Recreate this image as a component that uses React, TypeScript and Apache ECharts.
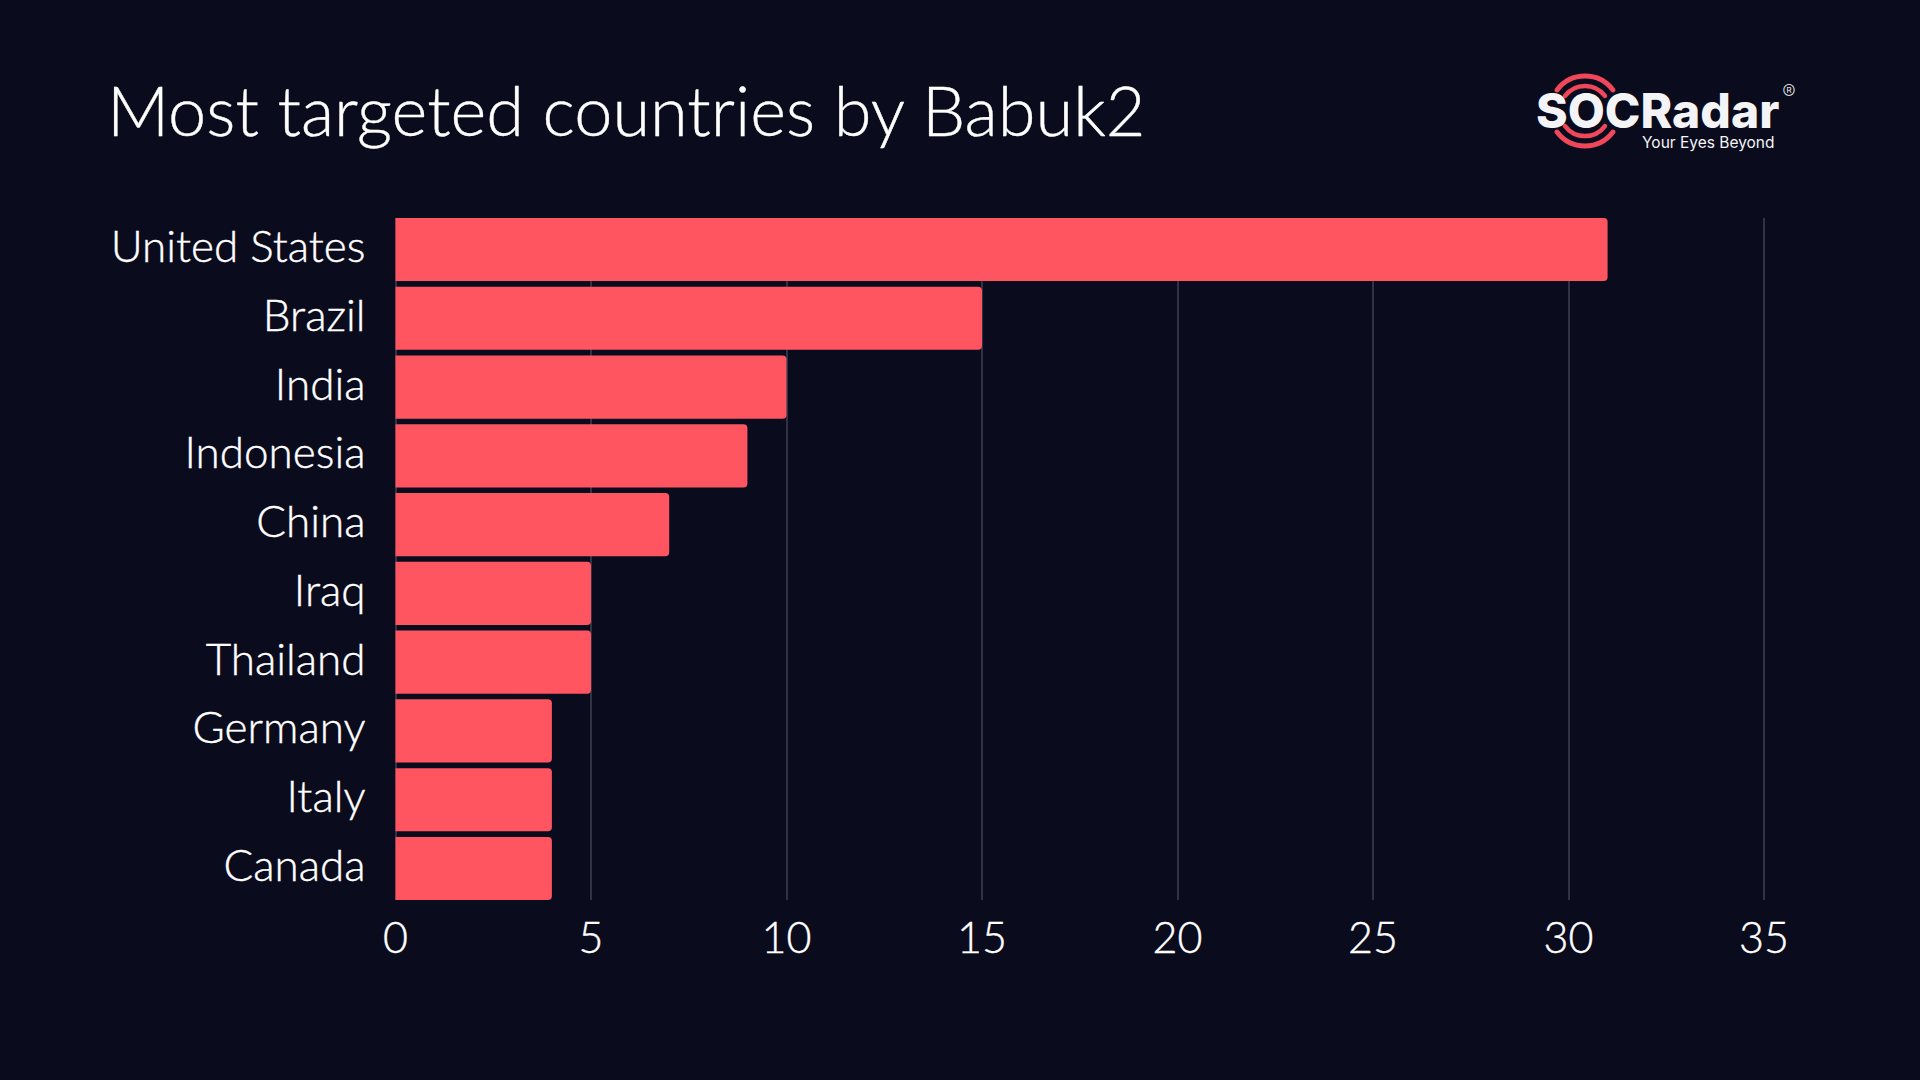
import { useEffect, useRef } from 'react';
import * as echarts from 'echarts';

const countries = ['United States', 'Brazil', 'India', 'Indonesia', 'China', 'Iraq', 'Thailand', 'Germany', 'Italy', 'Canada'];
const victims = [31, 15, 10, 9, 7, 5, 5, 4, 4, 4];

const BG = '#0a0c1d';
const RED = '#ff5561';
const FONT = 'Lato';

const arcAngles = [
  [-143, -37],
  [37, 143]
];
const arcRadii = [
  { r: 35, lineWidth: 5 },
  { r: 25, lineWidth: 4.5 }
];

const rad = (deg: number) => (deg * Math.PI) / 180;

// logo arcs around the O
const logoArcs = arcAngles.flatMap(([start, end]) =>
  arcRadii.map(({ r, lineWidth }) => ({
    type: 'arc',
    shape: { cx: 1585, cy: 111, r, startAngle: rad(start), endAngle: rad(end), clockwise: true },
    style: { fill: 'none', stroke: '#f0475a', lineWidth, lineCap: 'round' }
  }))
);

// Lato Light is a bit thin next to the original face
const labelWeight = { fontFamily: FONT, fontWeight: 300, textBorderColor: '#ffffff', textBorderWidth: 0.4 };

export default function App() {
  const chartRef = useRef<HTMLDivElement | null>(null);

  useEffect(() => {
    if (!chartRef.current) return;

    const chart = echarts.init(chartRef.current, undefined, { renderer: 'svg' });
    chart.setOption({
      animation: false,
      backgroundColor: BG,
      title: {
        text: 'Most targeted countries by Babuk2',
        left: 102,
        top: 70,
        textStyle: { color: '#ffffff', fontSize: 68.5, ...labelWeight }
      },
      // first grid carries the value axis, second one the bars (so the lines stop at the bar edges)
      grid: [
        { left: 395.5, right: 156, top: 218, height: 682 },
        { left: 395.5, right: 156, top: 215.2, height: 687.6 }
      ],
      xAxis: [
        {
          gridIndex: 0,
          type: 'value',
          min: 0,
          max: 35,
          interval: 5,
          axisLine: { show: false },
          axisTick: { show: false },
          axisLabel: { color: '#ffffff', fontSize: 43, margin: 15, ...labelWeight },
          splitLine: { show: true, lineStyle: { color: '#3f4152', width: 1.5 } }
        },
        { gridIndex: 1, type: 'value', min: 0, max: 35, show: false }
      ],
      yAxis: [
        { gridIndex: 0, type: 'category', data: countries, show: false },
        {
          gridIndex: 1,
          type: 'category',
          data: countries,
          inverse: true,
          axisLine: { show: false },
          axisTick: { show: false },
          axisLabel: {
            color: '#ffffff',
            fontSize: 44,
            margin: 30,
            verticalAlign: 'bottom',
            lineHeight: 9,
            ...labelWeight
          }
        }
      ],
      series: [
        {
          type: 'bar',
          xAxisIndex: 1,
          yAxisIndex: 1,
          data: victims,
          barCategoryGap: '8.3%',
          itemStyle: { color: RED, borderRadius: [0, 4, 4, 0] }
        }
      ],
      graphic: [
        ...logoArcs,
        {
          type: 'text',
          x: 1536,
          y: 110,
          style: { text: 'SOCRadar', fill: '#f4f4f6', font: '800 48px Inter', lineHeight: 34, verticalAlign: 'middle' }
        },
        {
          type: 'text',
          x: 1642,
          y: 142,
          style: { text: 'Your Eyes Beyond', fill: '#f4f4f6', font: '400 15.5px Inter', verticalAlign: 'middle' }
        },
        {
          type: 'text',
          x: 1789,
          y: 92,
          style: { text: '®', fill: '#d8d8dc', font: '300 20px Inter', align: 'center', verticalAlign: 'middle' }
        }
      ]
    });

    return () => chart.dispose();
  }, []);

  return <div ref={chartRef} style={{ position: 'fixed', left: 0, top: 0, width: 1920, height: 1080 }} />;
}
